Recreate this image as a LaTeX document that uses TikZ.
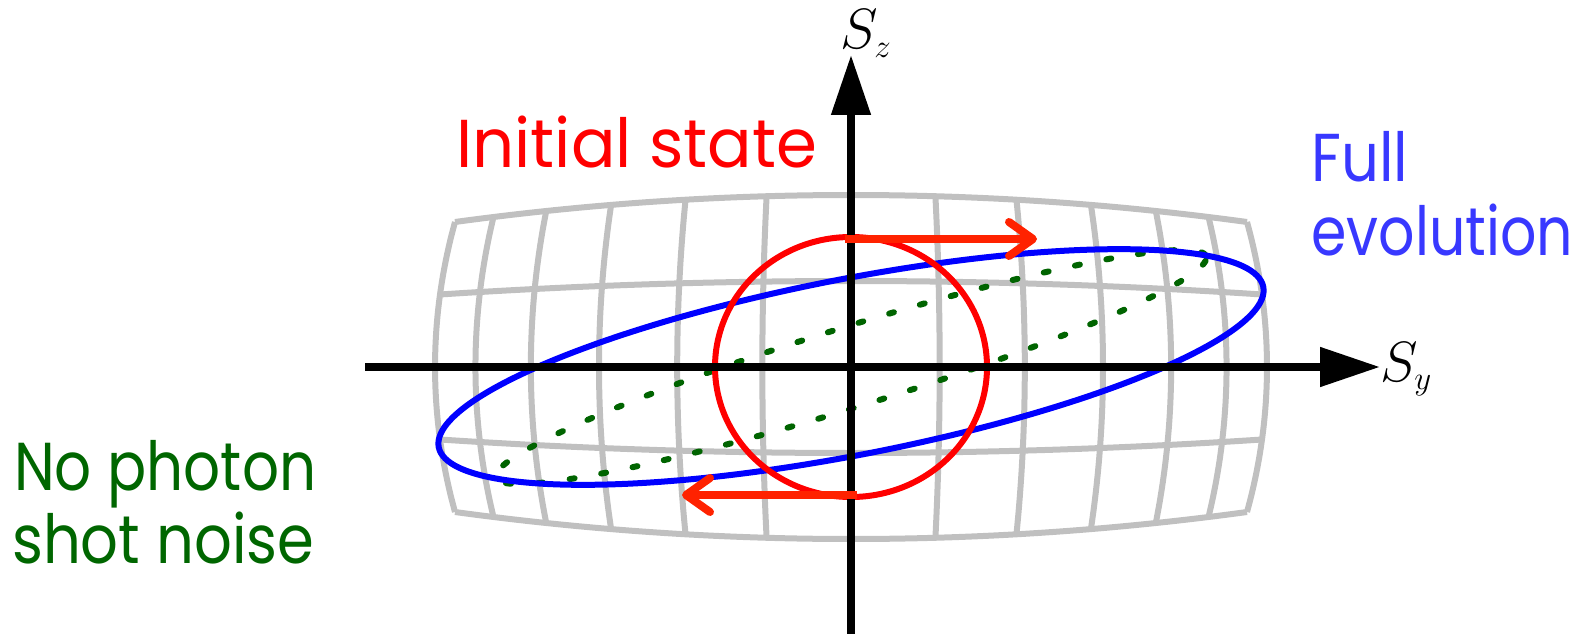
\RequirePackage{fix-cm}
\documentclass[tikz,border=0pt]{standalone}
\usepackage{fontspec}
\setmainfont{Poppins}
\usetikzlibrary{arrows.meta}
\definecolor{gridgray}{RGB}{192,192,192}
\definecolor{dotgreen}{RGB}{0,100,0}
\definecolor{txtgreen}{RGB}{0,102,0}
\definecolor{txtblue}{RGB}{56,56,255}
\definecolor{arrred}{RGB}{255,34,0}
\newcommand{\fitw}[2]{\resizebox{#1}{\height}{#2}}
\newcommand{\smallsub}[1]{\mbox{\fontsize{33}{33}\selectfont$#1$}}
\tikzset{
  gridline/.style={gridgray, line width=6bp, line join=round},
  axisline/.style={black, line width=8bp, -{Triangle[length=60bp,width=38bp]}},
  redarrow/.style={arrred, line width=8bp, -{Straight Barb[length=24bp,width=34bp,round]}},
  lbl/.style={inner sep=0pt, anchor=base west, font=\fontsize{68}{72}\selectfont},
  mathlbl/.style={inner sep=0pt, anchor=base west, font=\fontsize{57}{60}\selectfont},
}
\begin{document}
\begin{tikzpicture}[x=1bp,y=-1bp]
\useasboundingbox (0,0) rectangle (1585,634);
% grid
\foreach \v in {-2,...,2}
  \draw[gridline] plot[smooth, variable=\u, domain=-6:6, samples=49]
    ({851+446.33*sin(11.459*\u)*(1-0.012*(\v)*(\v))},
     {367-86*(\v)*(1-0.157*(sin(11.459*\u)/0.93204)^2)});
\foreach \u in {-6,...,6}
  \draw[gridline] plot[smooth, variable=\v, domain=-2:2, samples=17]
    ({851+446.33*sin(11.459*\u)*(1-0.012*(\v)*(\v))},
     {367-86*(\v)*(1-0.157*(sin(11.459*\u)/0.93204)^2)});
% green dotted ellipse
\draw[dotgreen, line width=6bp, line cap=round, dash pattern=on 5bp off 27bp]
  plot[smooth cycle, variable=\t, domain=0:358, samples=180]
    ({851+372*cos(\t)*cos(17.3)-40*sin(\t)*sin(17.3)},
     {367-(372*cos(\t)*sin(17.3)+40*sin(\t)*cos(17.3))});
% blue ellipse
\draw[blue, line width=6bp]
  plot[smooth cycle, variable=\t, domain=0:358, samples=180]
    ({851+420*cos(\t)*cos(11)-88*sin(\t)*sin(11)},
     {367-(420*cos(\t)*sin(11)+88*sin(\t)*cos(11))});
% red circle
\draw[red, line width=6bp] (851,367) ellipse [x radius=136, y radius=130];
% axes
\coordinate (O) at (851,367);
\coordinate (ybeg) at (365,367);
\coordinate (yend) at (1380,367);
\coordinate (zbeg) at (851,640);
\coordinate (zend) at (851,55);
\draw[axisline] (ybeg) -- (yend);
\draw[axisline] (zbeg) -- (zend);
\node[mathlbl] (Sz) at (840,49) {$S_{\smallsub{z}}$};
\node[mathlbl] (Sy) at (1380,381) {$S_{\smallsub{y}}$};
% red arrows
\coordinate (ta) at (845,239);
\coordinate (tb) at (1037,239);
\coordinate (ba) at (857,495);
\coordinate (bb) at (682,495);
\draw[redarrow] (ta) -- (tb);
\draw[redarrow] (ba) -- (bb);
% labels
\node[lbl, red] (init) at (456,168) {\fitw{361bp}{Initial state}};
\node[lbl, txtblue] (full1) at (1311,182) {\fitw{97bp}{Full}};
\node[lbl, txtblue] (full2) at (1311,255) {\fitw{262bp}{evolution}};
\node[lbl, txtgreen] (nop1) at (14,490) {\fitw{302bp}{No photon}};
\node[lbl, txtgreen] (nop2) at (12,563) {\fitw{302bp}{shot noise}};
\end{tikzpicture}
\end{document}
